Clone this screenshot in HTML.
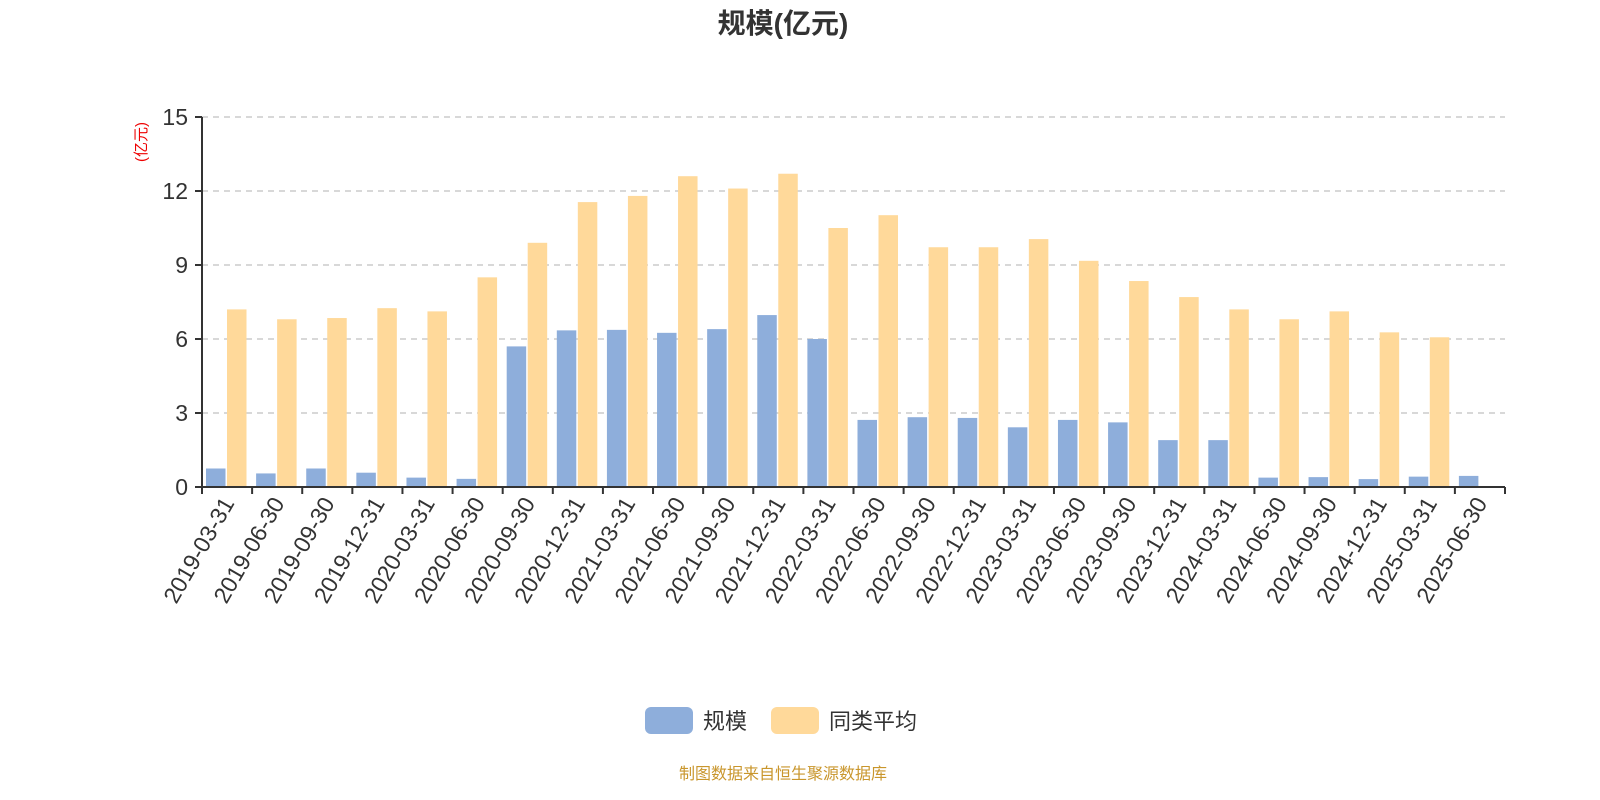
<!DOCTYPE html>
<html><head><meta charset="utf-8"><style>
body{margin:0;background:#fff;}
svg{display:block;font-family:"Liberation Sans","Noto Sans CJK SC",sans-serif;}
</style></head><body>
<svg id="chart" width="1600" height="800" viewBox="0 0 1600 800">
<text x="783" y="33" text-anchor="middle" font-size="28" font-weight="bold" fill="#333">规模(亿元)</text>
<text transform="translate(146,142) rotate(-90)" text-anchor="middle" font-size="15" fill="#e00">(亿元)</text>
<g id="grid"></g><g id="bars"></g><g id="axes"></g>
<g>
<rect x="645" y="707" width="48" height="27" rx="6" fill="#8eaedb"/>
<text x="703" y="729" font-size="22" fill="#333">规模</text>
<rect x="771" y="707" width="48" height="27" rx="6" fill="#ffd99a"/>
<text x="829" y="729" font-size="22" fill="#333">同类平均</text>
</g>
<text x="783" y="779" text-anchor="middle" font-size="16" fill="#c9962c">制图数据来自恒生聚源数据库</text>
</svg>
<script>
const categories=["2019-03-31","2019-06-30","2019-09-30","2019-12-31","2020-03-31","2020-06-30","2020-09-30","2020-12-31","2021-03-31","2021-06-30","2021-09-30","2021-12-31","2022-03-31","2022-06-30","2022-09-30","2022-12-31","2023-03-31","2023-06-30","2023-09-30","2023-12-31","2024-03-31","2024-06-30","2024-09-30","2024-12-31","2025-03-31","2025-06-30"];
const scaleValues=[0.75,0.55,0.75,0.58,0.38,0.33,5.7,6.35,6.37,6.25,6.4,6.97,6.0,2.72,2.83,2.8,2.42,2.72,2.62,1.9,1.9,0.38,0.4,0.32,0.42,0.45];
const avgValues=[7.2,6.8,6.85,7.25,7.12,8.5,9.9,11.55,11.8,12.6,12.1,12.7,10.5,11.02,9.72,9.72,10.05,9.17,8.35,7.7,7.2,6.8,7.12,6.27,6.07,null];
const yTicks=[0,3,6,9,12,15];
const NS="http://www.w3.org/2000/svg";
const X0=202,X1=1505,Y0=487,Y1=117,YMAX=15;
const band=(X1-X0)/categories.length;
const y=v=>Y0-(v/YMAX)*(Y0-Y1);
const xb=i=>X0+i*band;
function mk(tag,attrs,parent){const e=document.createElementNS(NS,tag);for(const k in attrs)e.setAttribute(k,attrs[k]);parent.appendChild(e);return e;}
const grid=document.getElementById('grid'),bars=document.getElementById('bars'),axes=document.getElementById('axes');
yTicks.forEach(t=>{
 if(t>0){const l=mk('line',{x1:X0,x2:X1,y1:y(t),y2:y(t),stroke:'#ccc','stroke-width':1.5,'stroke-dasharray':'6,5'},grid);
 
 }
 const tk=mk('line',{x1:X0-7,x2:X0,y1:y(t),y2:y(t),stroke:'#333','stroke-width':2},axes);
 
 
 const tx=mk('text',{x:X0-14,y:y(t)+8,'text-anchor':'end','font-size':23,fill:'#333'},axes);
 tx.textContent=t;
 
 
});
categories.forEach((c,i)=>{
 const bx=xb(i);
 const b1=mk('rect',{x:bx+4,y:y(scaleValues[i]),width:19.5,height:Y0-y(scaleValues[i]),fill:'#8eaedb'},bars);
 
 
 if(avgValues[i]!=null){const b2=mk('rect',{x:bx+25,y:y(avgValues[i]),width:19.5,height:Y0-y(avgValues[i]),fill:'#ffd99a'},bars);
 
 }
 const tk=mk('line',{x1:bx,x2:bx,y1:Y0,y2:Y0+7,stroke:'#333','stroke-width':2},axes);
 
 
 const cx=bx+band/2+8;
 const tx=mk('text',{x:cx,y:Y0+16,'text-anchor':'end','font-size':23,fill:'#333',transform:`rotate(-60 ${cx} ${Y0+16})`},axes);
 tx.textContent=c;
 
 
});
const lt=mk('line',{x1:X1,x2:X1,y1:Y0,y2:Y0+7,stroke:'#333','stroke-width':2},axes);


const ya=mk('line',{x1:X0,x2:X0,y1:Y1,y2:Y0,stroke:'#333','stroke-width':2},axes);


const xa=mk('line',{x1:X0,x2:X1,y1:Y0,y2:Y0,stroke:'#333','stroke-width':2},axes);


</script>
</body></html>
